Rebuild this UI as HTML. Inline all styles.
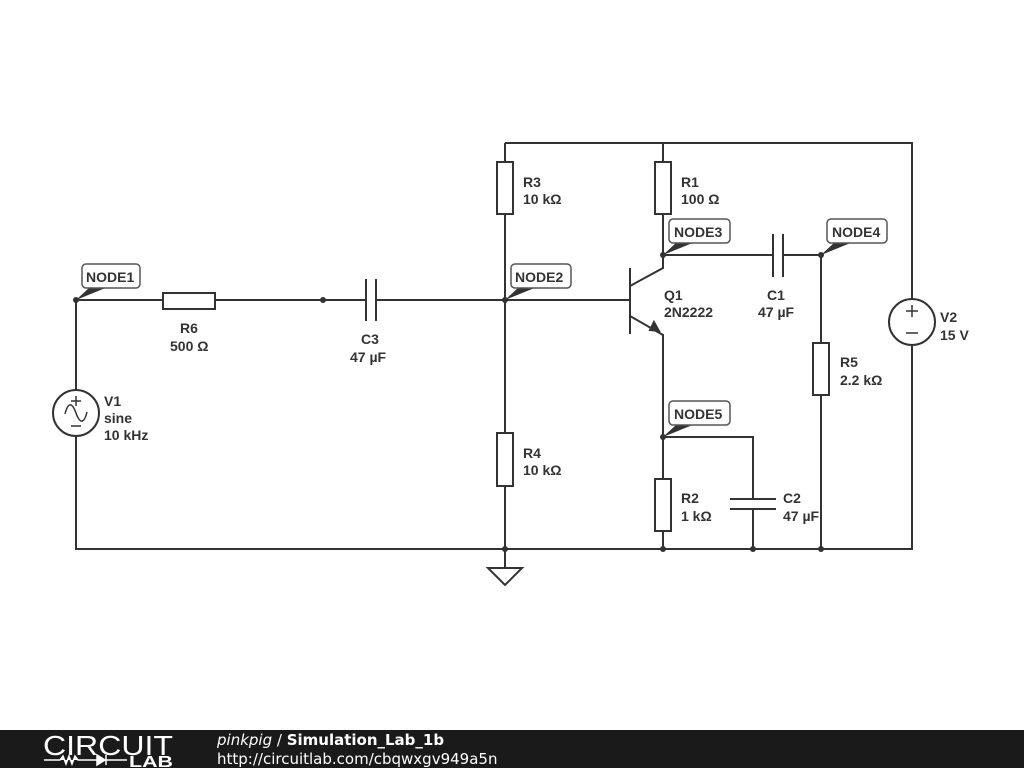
<!DOCTYPE html>
<html><head><meta charset="utf-8"><style>
html,body{margin:0;padding:0;background:#fff;width:1024px;height:768px;overflow:hidden}
svg{display:block}
.w{stroke:#333;stroke-width:2;fill:none}
.t{font-family:"Liberation Sans",sans-serif;font-weight:bold;font-size:14px;fill:#333}
.n{font-family:"Liberation Sans",sans-serif;font-weight:bold;font-size:14px;fill:#333}
.nb{fill:#fff;stroke:#555;stroke-width:1.5}
</style></head><body>
<svg width="1024" height="768" viewBox="0 0 1024 768">
<rect width="1024" height="768" fill="#fff"/>
<g class="w">
<path d="M505 143H912V549H76V300H163M215 300H366M376 300H630"/>
<rect x="163" y="293" width="52" height="16"/>
<path d="M366 279V321M376 279V321"/>
<path d="M505 143V162M505 214V433M505 486V568"/>
<rect x="497" y="162" width="16" height="52"/>
<rect x="497" y="433" width="16" height="53"/>
<path d="M488 568H522L505 585Z"/>
<path d="M630 268V334M630 286L663 268V255M630 316L663 335V479"/>
<path d="M663 143V162M663 214V255H773M783 255H821V343M821 395V549"/>
<rect x="655" y="162" width="16" height="52"/>
<path d="M773 234V277M783 234V277"/>
<rect x="813" y="343" width="16" height="52"/>
<rect x="655" y="479" width="16" height="52"/>
<path d="M663 531V549M663 437H753V499M730 499H776M730 509H776M753 509V549"/>
<circle cx="76" cy="413" r="23" fill="#fff"/>
<circle cx="912" cy="322" r="23" fill="#fff"/>
</g>
<path d="M659 331L650 330L654 322Z" fill="#333" stroke="#333" stroke-width="2"/>
<g stroke="#333" stroke-width="1.5" fill="none">
<path d="M76 396V406M71 401H81M71 426H81"/>
<path d="M65 414C68 402 72 402 76 413C80 424 84 424 87 412"/>
<path d="M912 305V317M906 311H918M906 333H918"/>
</g>
<g fill="#333">
<circle cx="76" cy="300" r="3"/><circle cx="323" cy="300" r="3"/><circle cx="505" cy="300" r="3"/>
<circle cx="505" cy="549" r="3"/><circle cx="663" cy="255" r="3"/><circle cx="821" cy="255" r="3"/>
<circle cx="663" cy="437" r="3"/><circle cx="663" cy="549" r="3"/><circle cx="753" cy="549" r="3"/><circle cx="821" cy="549" r="3"/>
</g>
<g>
<path d="M76 300L90 287H108Z" fill="#333"/><rect class="nb" x="82" y="264" width="58" height="24" rx="4"/><text class="n" x="86" y="282">NODE1</text>
<path d="M505 300L519 287H537Z" fill="#333"/><rect class="nb" x="511" y="264" width="60" height="24" rx="4"/><text class="n" x="515" y="282">NODE2</text>
<path d="M663 255L677 242H695Z" fill="#333"/><rect class="nb" x="669" y="219" width="61" height="24" rx="4"/><text class="n" x="674" y="237">NODE3</text>
<path d="M821 255L835 242H853Z" fill="#333"/><rect class="nb" x="827" y="219" width="60" height="24" rx="4"/><text class="n" x="832" y="237">NODE4</text>
<path d="M663 437L677 424H695Z" fill="#333"/><rect class="nb" x="669" y="401" width="61" height="24" rx="4"/><text class="n" x="674" y="419">NODE5</text>
</g>
<g class="t">
<text x="180" y="333">R6</text><text x="170" y="351">500 Ω</text>
<text x="361" y="344">C3</text><text x="350" y="362">47 µF</text>
<text x="104" y="406">V1</text><text x="104" y="423">sine</text><text x="104" y="440">10 kHz</text>
<text x="523" y="187">R3</text><text x="523" y="204">10 kΩ</text>
<text x="523" y="458">R4</text><text x="523" y="475">10 kΩ</text>
<text x="681" y="187">R1</text><text x="681" y="204">100 Ω</text>
<text x="664" y="300">Q1</text><text x="664" y="317">2N2222</text>
<text x="767" y="300">C1</text><text x="758" y="317">47 µF</text>
<text x="840" y="367">R5</text><text x="840" y="385">2.2 kΩ</text>
<text x="940" y="322">V2</text><text x="940" y="340">15 V</text>
<text x="681" y="503">R2</text><text x="681" y="521">1 kΩ</text>
<text x="783" y="503">C2</text><text x="783" y="521">47 µF</text>
</g>
<rect x="0" y="730" width="1024" height="38" fill="#1a1a1a"/>
<text x="43" y="755" font-family="Liberation Sans,sans-serif" font-size="28" fill="#fff" textLength="130" lengthAdjust="spacingAndGlyphs">CIRCUIT</text>
<path d="M44 760H60L63 756L66 764L69 756L72 764L75 756L78 760H97M97 755V765L105 760ZM106 755V765M106 760H127" stroke="#fff" stroke-width="1.5" fill="#fff"/>
<text x="129" y="767" font-family="Liberation Sans,sans-serif" font-weight="bold" font-size="16" fill="#fff" textLength="44" lengthAdjust="spacingAndGlyphs">LAB</text>
<text x="217" y="745" font-family="DejaVu Sans,sans-serif" font-size="15" fill="#fff"><tspan font-style="italic">pinkpig</tspan> / <tspan font-weight="bold">Simulation_Lab_1b</tspan></text>
<text x="217" y="764" font-family="DejaVu Sans,sans-serif" font-size="15" fill="#fff">http://circuitlab.com/cbqwxgv949a5n</text>
</svg>
</body></html>
